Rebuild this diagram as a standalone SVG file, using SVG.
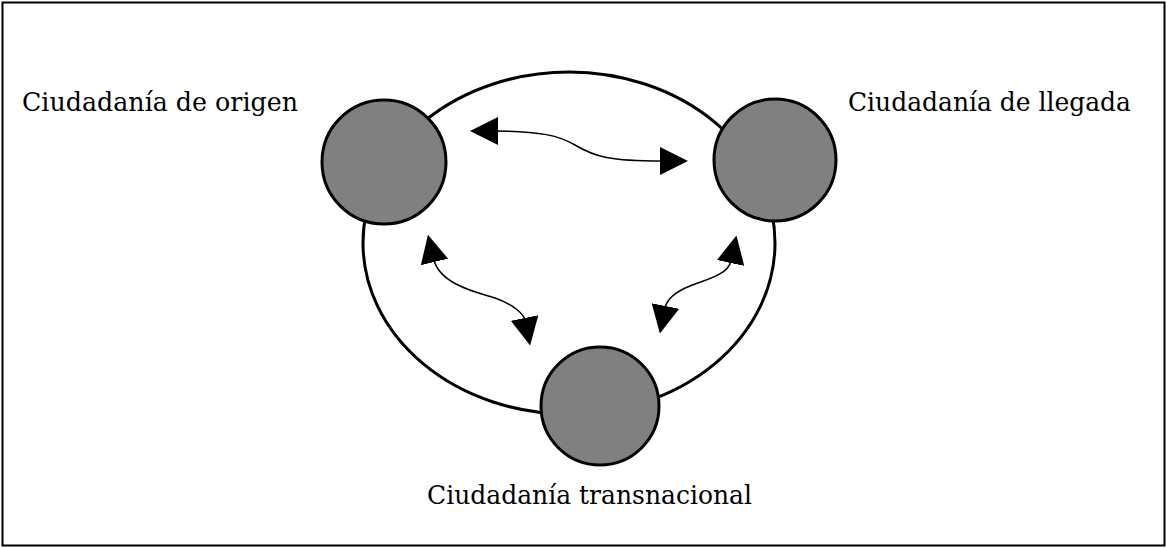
<svg xmlns="http://www.w3.org/2000/svg" width="1167" height="548" viewBox="0 0 1167 548">
<style>
.node{fill:#808080;stroke:#000;stroke-width:3}
.ring{fill:none;stroke:#000;stroke-width:3}
.conn{fill:none;stroke:#000;stroke-width:1.5}
.lbl{font-family:"DejaVu Serif","Liberation Serif",serif;font-size:26.5px;fill:#000}
</style>
<defs>
<marker id="ah" markerUnits="userSpaceOnUse" markerWidth="28" markerHeight="28" viewBox="0 0 28 28" refX="2" refY="14" orient="auto-start-reverse">
<path d="M0,0 L28,14 L0,28 Z" fill="#000"/>
</marker>
</defs>
<rect x="2.5" y="2.5" width="1162" height="543" fill="#fff" stroke="#000" stroke-width="2"/>
<g id="ring">
<ellipse class="ring" cx="569" cy="243" rx="206" ry="171"/>
</g>
<g id="connectors">
<path class="conn" d="M496,131 C540,131 560,136 575,145 C595,157 610,161 662,161" marker-start="url(#ah)" marker-end="url(#ah)"/>
<path class="conn" d="M434,260 C440,285 480,293 495,298 C515,305 524,315 525,320" marker-start="url(#ah)" marker-end="url(#ah)"/>
<path class="conn" d="M731,261 C728,275 705,280 690,286 C670,294 666,303 665,308" marker-start="url(#ah)" marker-end="url(#ah)"/>
</g>
<g id="origen">
<circle class="node" cx="384" cy="162" r="62"/>
<text class="lbl" x="22" y="111" textLength="276" lengthAdjust="spacingAndGlyphs">Ciudadanía de origen</text>
</g>
<g id="llegada">
<circle class="node" cx="775" cy="160" r="61"/>
<text class="lbl" x="848" y="111" textLength="283" lengthAdjust="spacingAndGlyphs">Ciudadanía de llegada</text>
</g>
<g id="transnacional">
<circle class="node" cx="600" cy="406" r="59"/>
<text class="lbl" x="427" y="504" textLength="325" lengthAdjust="spacingAndGlyphs">Ciudadanía transnacional</text>
</g>
</svg>
